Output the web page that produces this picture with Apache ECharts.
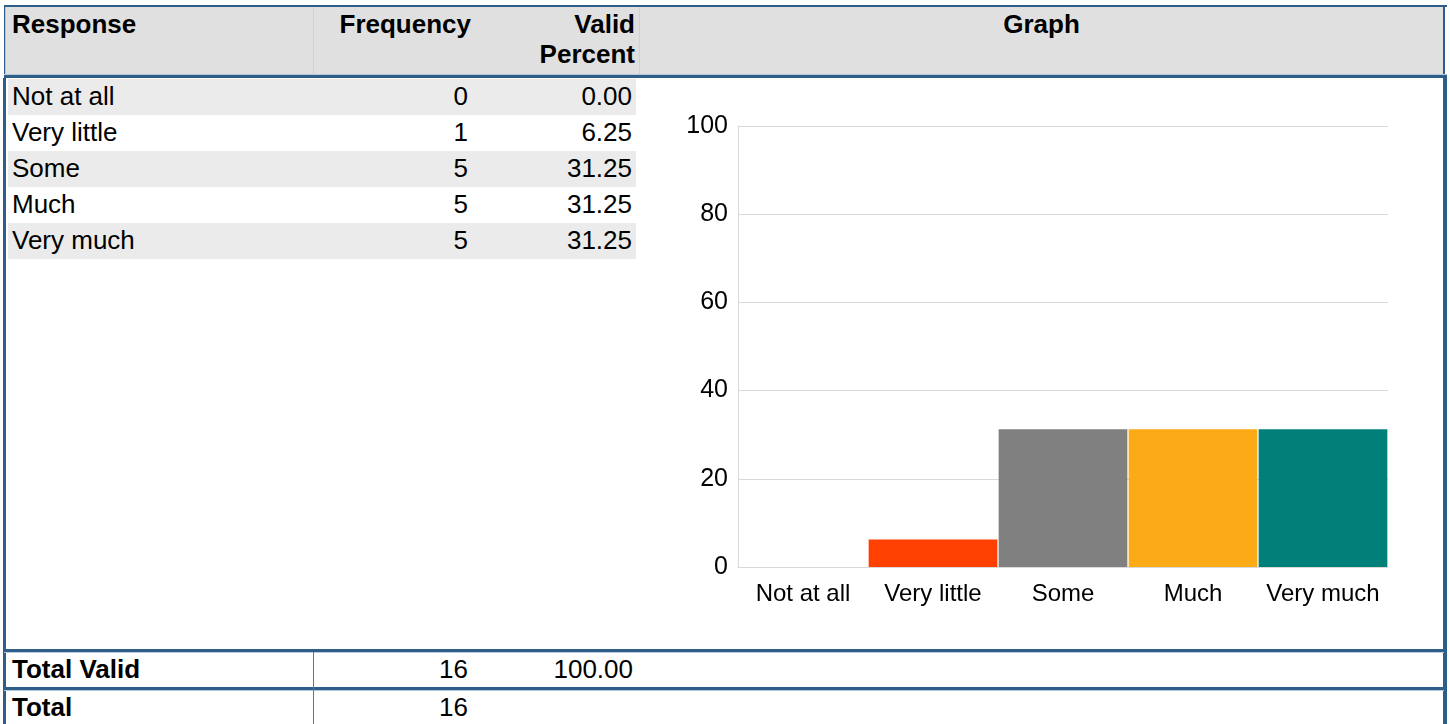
<!DOCTYPE html>
<html>
<head>
<meta charset="utf-8">
<script src="https://cdn.jsdelivr.net/npm/echarts@6/dist/echarts.min.js"></script>
<style>
  html, body { margin: 0; padding: 0; background: #fff; width: 1450px; height: 724px; overflow: hidden; }
  body { font-family: "Liberation Sans", Arial, sans-serif; color: #000; position: relative; }
  .abs { position: absolute; }
  .blue { background: #2d5e89; }
  .hdr { font-weight: bold; font-size: 26px; line-height: 30px; }
  .cell { font-size: 26px; line-height: 36px; height: 36px; white-space: nowrap; }
  .r { text-align: right; }
  .foot { font-weight: bold; font-size: 26px; line-height: 36px; }
</style>
</head>
<body>
<div id="table"></div>
<div id="chart" class="abs" style="left:640px; top:78px; width:803px; height:571px;"></div>
<script>
const categories = ["Not at all", "Very little", "Some", "Much", "Very much"];
const frequency = [0, 1, 5, 5, 5];
const validPercent = [0.00, 6.25, 31.25, 31.25, 31.25];
const barColors = ["#ffffff", "#ff4000", "#808080", "#fdaa17", "#008079"];
const yTicks = [0, 20, 40, 60, 80, 100];
const totalValid = 16;
const totalValidPercent = 100.00;
const total = 16;

// ---- table (HTML) ----
const t = document.getElementById('table');
function add(html) { t.insertAdjacentHTML('beforeend', html); }
// header
add('<div class="abs" style="left:6px;top:7px;width:1437px;height:68px;background:#e0e0e0"></div>');
add('<div class="abs blue" style="left:4px;top:5px;width:1443px;height:2px"></div>');
add('<div class="abs" style="left:4px;top:7px;width:1px;height:68px;background:#2d5e89"></div>');
add('<div class="abs" style="left:5px;top:7px;width:1px;height:68px;background:#b9c9d9"></div>');
add('<div class="abs blue" style="left:1443px;top:7px;width:2px;height:68px"></div>');
add('<div class="abs" style="left:313px;top:7px;width:1px;height:68px;background:#c9d3dd"></div>');
add('<div class="abs" style="left:639px;top:7px;width:1px;height:68px;background:#c9d3dd"></div>');
add('<div class="abs" style="left:4px;top:74px;width:1443px;height:1px;background:#b9c9d9"></div>');
add('<div class="abs blue" style="left:4px;top:75px;width:1443px;height:3px"></div>');
add('<div class="abs hdr" style="left:12px;top:9px">Response</div>');
add('<div class="abs hdr r" style="left:320px;top:9px;width:151px">Frequency</div>');
add('<div class="abs hdr r" style="left:480px;top:9px;width:155px">Valid<br>Percent</div>');
add('<div class="abs hdr" style="left:640px;top:9px;width:803px;text-align:center">Graph</div>');
// body borders
add('<div class="abs blue" style="left:3px;top:78px;width:3px;height:646px"></div>');
add('<div class="abs blue" style="left:1443px;top:78px;width:4px;height:646px"></div>');
// body rows
categories.forEach((c, i) => {
  const top = 79 + i * 36;
  if (i % 2 === 0) add(`<div class="abs" style="left:8px;top:${top}px;width:628px;height:36px;background:#ebebeb"></div>`);
  add(`<div class="abs cell" style="left:12px;top:${top - 1}px">${c}</div>`);
  add(`<div class="abs cell r" style="left:320px;top:${top - 1}px;width:148px">${frequency[i]}</div>`);
  add(`<div class="abs cell r" style="left:480px;top:${top - 1}px;width:152px">${validPercent[i].toFixed(2)}</div>`);
});
// footer lines
add('<div class="abs blue" style="left:4px;top:649px;width:1440px;height:3px"></div>');
add('<div class="abs" style="left:4px;top:652px;width:1440px;height:1px;background:#b9c9d9"></div>');
add('<div class="abs blue" style="left:4px;top:687px;width:1440px;height:3px"></div>');
add('<div class="abs" style="left:4px;top:690px;width:1440px;height:1px;background:#b9c9d9"></div>');
add('<div class="abs" style="left:313px;top:652px;width:1px;height:72px;background:#4f7aa1"></div>');
add(`<div class="abs foot" style="left:12px;top:651px">Total Valid</div>`);
add(`<div class="abs cell r" style="left:320px;top:651px;width:148px">${totalValid}</div>`);
add(`<div class="abs cell r" style="left:480px;top:651px;width:153px">${totalValidPercent.toFixed(2)}</div>`);
add(`<div class="abs foot" style="left:12px;top:689px">Total</div>`);
add(`<div class="abs cell r" style="left:320px;top:689px;width:148px">${total}</div>`);

// ---- chart (ECharts) ----
const chart = echarts.init(document.getElementById('chart'), null, { renderer: 'canvas' });
chart.setOption({
  animation: false,
  grid: { left: 98, right: 55, top: 48, bottom: 82, containLabel: false },
  xAxis: {
    type: 'category',
    data: categories,
    axisLine: { show: true, lineStyle: { color: '#d9d9d9', width: 1 } },
    axisTick: { show: false },
    axisLabel: { color: '#000', fontSize: 24, fontFamily: 'Liberation Sans', margin: 15, interval: 0 }
  },
  yAxis: {
    type: 'value',
    min: yTicks[0],
    max: yTicks[yTicks.length - 1],
    interval: yTicks[1] - yTicks[0],
    axisLine: { show: true, lineStyle: { color: '#d9d9d9', width: 1 } },
    axisTick: { show: false },
    axisLabel: { color: '#000', fontSize: 25, fontFamily: 'Liberation Sans', margin: 10 },
    splitLine: { show: true, lineStyle: { color: '#d9d9d9', width: 1 } }
  },
  series: [{
    type: 'bar',
    barCategoryGap: '1%',
    data: validPercent.map((v, i) => ({ value: v, itemStyle: { color: barColors[i] } }))
  }]
});
</script>
</body>
</html>
